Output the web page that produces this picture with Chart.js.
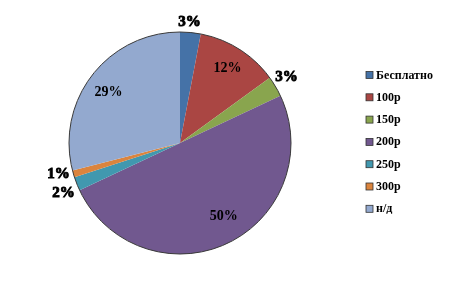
<!DOCTYPE html>
<html>
<head>
<meta charset="utf-8">
<script src="https://cdn.jsdelivr.net/npm/chart.js@4.4.0/dist/chart.umd.min.js"></script>
<style>
  html, body { margin: 0; padding: 0; background: #fff; }
  #wrap { width: 449px; height: 285px; }
</style>
</head>
<body>
<div id="wrap"><canvas id="chart-pie" width="449" height="285"></canvas></div>
<script>
const labels = ['Бесплатно', '100р', '150р', '200р', '250р', '300р', 'н/д'];
const values = [3, 12, 3, 50, 2, 1, 29];
const colors = ['#4572A7', '#AA4643', '#89A54E', '#71588F', '#4198AF', '#DB843D', '#93A9CF'];
// where each percent label sits: share of the radius, and a nudge in degrees
const labelRadius = [1.09, 0.8, 1.13, 0.77, 1.14, 1.13, 0.79];
const labelNudge = [-0.9, 0, -1.2, -5.6, -1.5, 1.7, -2.3];

const serif = '"Liberation Serif", "Times New Roman", serif';

const piePlugin = {
  id: 'pieExtras',
  afterDatasetsDraw(chart) {
    const ctx = chart.ctx;
    const meta = chart.getDatasetMeta(0);
    const total = values.reduce((a, b) => a + b, 0);
    const first = meta.data[0];
    const cx = first.x;
    const cy = first.y;
    const r = first.outerRadius;

    // thin outline round the pie
    ctx.save();
    ctx.beginPath();
    ctx.arc(cx, cy, r, 0, Math.PI * 2);
    ctx.strokeStyle = '#3a3a3a';
    ctx.lineWidth = 1;
    ctx.stroke();
    ctx.restore();

    meta.data.forEach((arc, i) => {
      const mid = (arc.startAngle + arc.endAngle) / 2 + (labelNudge[i] * Math.PI) / 180;
      const f = labelRadius[i];
      const x = cx + Math.cos(mid) * r * f;
      const y = cy + Math.sin(mid) * r * f;
      const text = Math.round((values[i] / total) * 100) + '%';
      ctx.save();
      ctx.textAlign = 'center';
      ctx.textBaseline = 'middle';
      ctx.fillStyle = '#000';
      if (f > 1) {
        ctx.font = 'bold 15px ' + serif;
        ctx.strokeStyle = '#000';
        ctx.lineWidth = 0.9;
        ctx.strokeText(text, x, y);
      } else {
        ctx.font = 'bold 14px ' + serif;
      }
      ctx.fillText(text, x, y);
      ctx.restore();
    });

    // legend on the right
    ctx.save();
    ctx.font = 'bold 12px ' + serif;
    ctx.textBaseline = 'middle';
    labels.forEach((lab, i) => {
      const y = 75 + i * 22.3;
      ctx.fillStyle = colors[i];
      ctx.fillRect(366, y - 3.5, 7, 7);
      ctx.strokeStyle = '#333';
      ctx.lineWidth = 0.8;
      ctx.strokeRect(366, y - 3.5, 7, 7);
      ctx.fillStyle = '#000';
      ctx.fillText(lab, 376, y + 0.5);
    });
    ctx.restore();
  },
};

new Chart(document.getElementById('chart-pie'), {
  type: 'pie',
  data: {
    labels: labels,
    datasets: [
      {
        data: values,
        backgroundColor: colors,
        borderWidth: 0,
      },
    ],
  },
  options: {
    responsive: false,
    animation: false,
    layout: { padding: { left: 69, top: 32, right: 158, bottom: 31 } },
    plugins: {
      legend: { display: false },
      tooltip: { enabled: false },
    },
  },
  plugins: [piePlugin],
});
</script>
</body>
</html>
